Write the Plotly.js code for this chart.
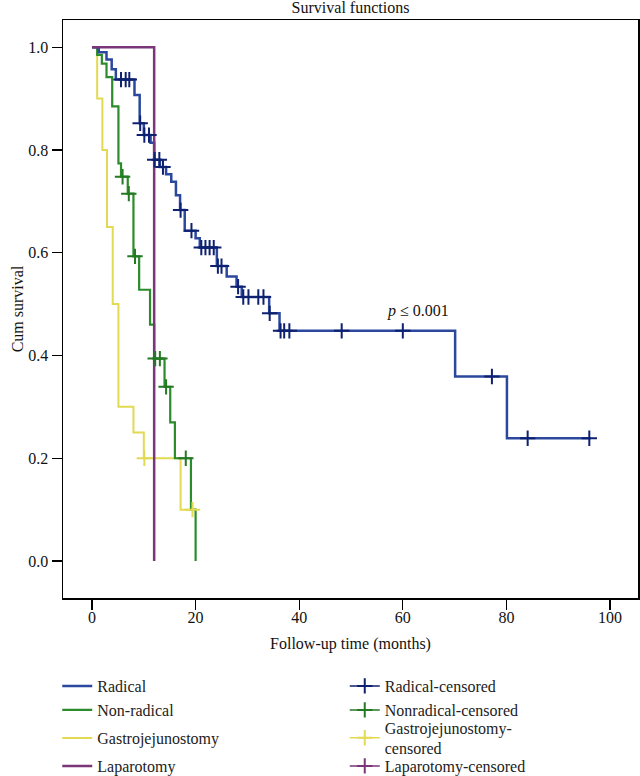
<!DOCTYPE html>
<html>
<head>
<meta charset="utf-8">
<script src="https://cdn.plot.ly/plotly-3.0.1.min.js"></script>
<style>
  body { margin: 0; background: #fff; }
  #chart { width: 640px; height: 776px; }
</style>
</head>
<body>
<div id="chart"></div>
<script>
// Kaplan-Meier steps (time in months, cumulative survival)
const radicalTime = [0, 1.3, 2.8, 3.8, 4.6, 8.2, 9.2, 10.0, 11.3, 12.0, 13.1, 14.3, 15.3, 16.2, 17.0, 17.9, 20.0, 20.8, 24.1, 26.0, 27.9, 28.9, 34.2, 36.2, 70.1, 80.1, 96.3];
const radicalSurv = [1, 0.99, 0.976, 0.957, 0.937, 0.907, 0.852, 0.829, 0.814, 0.781, 0.767, 0.753, 0.738, 0.712, 0.683, 0.643, 0.628, 0.610, 0.574, 0.554, 0.534, 0.514, 0.482, 0.448, 0.359, 0.239, 0.239];
const radicalCensor = [5.6, 6.5, 7.2, 9.3, 10.1, 11.0, 12.1, 13.0, 13.7, 17.1, 19.2, 21.1, 21.9, 22.7, 23.5, 24.3, 25.0, 28.2, 29.2, 30.2, 32.1, 33.1, 34.3, 36.4, 37.1, 38.1, 48.2, 60.0, 77.2, 84.1, 96.0];

const nonRadTime = [0, 1.0, 1.9, 2.8, 3.9, 5.1, 5.6, 6.9, 8.0, 9.1, 11.2, 12.0, 14.0, 15.1, 16.0, 19.1, 20.0];
const nonRadSurv = [1, 0.985, 0.968, 0.942, 0.885, 0.774, 0.748, 0.715, 0.593, 0.528, 0.46, 0.394, 0.339, 0.27, 0.2, 0.1, 0];
const nonRadCensor = [5.9, 7.1, 8.3, 12.2, 13.1, 14.3, 18.1];

const gastroTime = [0, 1.0, 2.0, 2.9, 4.0, 5.1, 8.0, 10.0, 17.1, 19.4];
const gastroSurv = [1, 0.9, 0.8, 0.65, 0.5, 0.3, 0.25, 0.2, 0.1, 0.1];
const gastroCensor = [10.1, 19.4];

const laparoTime = [0, 12.0];
const laparoSurv = [1, 0];
const laparoCensor = [];

const xTicks = [0, 20, 40, 60, 80, 100];
const yTicks = [0, 0.2, 0.4, 0.6, 0.8, 1.0];

const serif = '"Liberation Serif", "DejaVu Serif", serif';

// survival value of a step curve at time t
function survAt(times, surv, t) {
    let s = surv[0];
    for (let i = 0; i < times.length; i++) {
        if (times[i] <= t) s = surv[i];
    }
    return s;
}

// isolated points so the legend shows a line with a cross, but no line is drawn
function censorTrace(name, times, stepT, stepS, color, legendId) {
    const x = [];
    const y = [];
    times.forEach(t => {
        x.push(t, null);
        y.push(survAt(stepT, stepS, t), null);
    });
    if (x.length === 0) { x.push(null); y.push(null); }
    return {
        x: x, y: y, name: name, type: 'scatter', mode: 'lines+markers',
        legend: legendId, connectgaps: false, hoverinfo: 'skip',
        line: { color: color, width: 1.5 },
        marker: { symbol: 'cross-thin', size: 11, line: { color: color, width: 2 } }
    };
}

function stepTrace(name, x, y, color, width, legendId) {
    return {
        x: x, y: y, name: name, type: 'scatter', mode: 'lines', legend: legendId,
        line: { shape: 'hv', color: color, width: width }, hoverinfo: 'skip'
    };
}

const blue = '#2b489e', blueDark = '#0e2170';
const green = '#2c8c2c', greenDark = '#237a23';
const yellow = '#e2da52';
const purple = '#7b3579';

const data = [
    stepTrace('Gastrojejunostomy', gastroTime, gastroSurv, yellow, 2, 'legend3'),
    stepTrace('Non-radical', nonRadTime, nonRadSurv, green, 2.2, 'legend2'),
    stepTrace('Radical', radicalTime, radicalSurv, blue, 2.5, 'legend'),
    stepTrace('Laparotomy', laparoTime, laparoSurv, purple, 2.5, 'legend4'),
    censorTrace('Radical-censored', radicalCensor, radicalTime, radicalSurv, blueDark, 'legend5'),
    censorTrace('Nonradical-censored', nonRadCensor, nonRadTime, nonRadSurv, greenDark, 'legend6'),
    censorTrace('Gastrojejunostomy-<br>censored', gastroCensor, gastroTime, gastroSurv, yellow, 'legend7'),
    censorTrace('Laparotomy-censored', laparoCensor, laparoTime, laparoSurv, purple, 'legend8')
];

const axisCommon = {
    showline: true, mirror: true, linecolor: '#000', linewidth: 1.5,
    ticks: 'outside', ticklen: 10, tickwidth: 1.2, tickcolor: '#000',
    showgrid: false, zeroline: false,
    tickfont: { family: serif, size: 16, color: '#111' }
};

// one legend per row so the rows sit where the reference has them
const plotBottom = 598, plotHeight = 578;
function rowLegend(xPaper, rowPx) {
    return {
        x: xPaper, xanchor: 'left', y: (plotBottom - rowPx) / plotHeight, yanchor: 'middle',
        orientation: 'v', itemwidth: 30, bgcolor: 'rgba(0,0,0,0)',
        font: { family: serif, size: 16, color: '#222' }
    };
}

const layout = {
    width: 640, height: 776,
    margin: { l: 63, r: 2, t: 20, b: 178, autoexpand: false },
    paper_bgcolor: '#fff', plot_bgcolor: '#fff',
    font: { family: serif, size: 16, color: '#111' },
    title: {
        text: 'Survival functions', x: 0.5, xref: 'paper',
        y: 0.99, yref: 'container', yanchor: 'middle',
        font: { family: serif, size: 16, color: '#111' }
    },
    xaxis: Object.assign({}, axisCommon, {
        range: [-5.6, 105.4], tickvals: xTicks, ticklabelstandoff: -6,
        title: { text: 'Follow-up time (months)', standoff: 13, font: { family: serif, size: 16, color: '#111' } }
    }),
    yaxis: Object.assign({}, axisCommon, {
        range: [-0.072, 1.053], tickvals: yTicks, tickformat: '.1f',
        title: { text: 'Cum survival', standoff: 0, font: { family: serif, size: 16, color: '#111' } }
    }),
    annotations: [{
        x: 63, y: 0.486, xref: 'x', yref: 'y', showarrow: false,
        text: '<i>p</i> ≤ 0.001', font: { family: serif, size: 16, color: '#111' }
    }],
    showlegend: true,
    legend: rowLegend(-0.01, 686),
    legend2: rowLegend(-0.01, 710),
    legend3: rowLegend(-0.01, 738),
    legend4: rowLegend(-0.01, 766),
    legend5: rowLegend(0.49, 686),
    legend6: rowLegend(0.49, 710),
    legend7: rowLegend(0.49, 738),
    legend8: rowLegend(0.49, 766)
};

Plotly.newPlot('chart', data, layout, { staticPlot: true, displayModeBar: false });
</script>
</body>
</html>
